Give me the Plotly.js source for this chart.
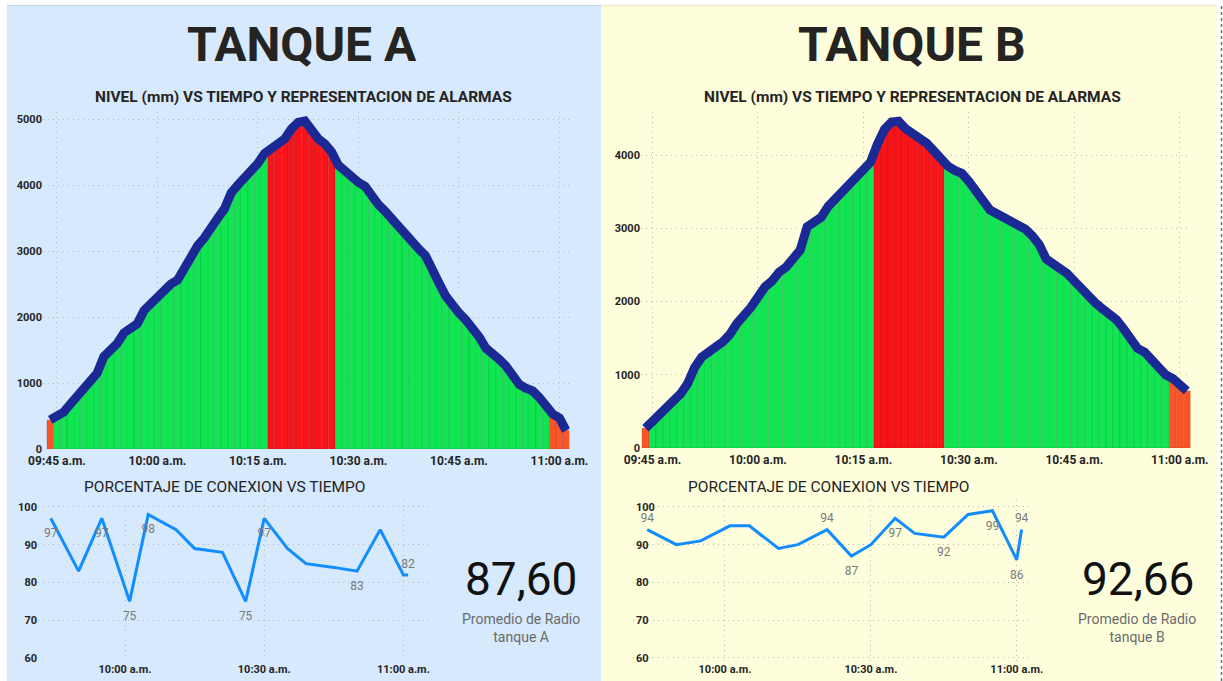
<!DOCTYPE html>
<html>
<head>
<meta charset="utf-8">
<script src="https://cdn.plot.ly/plotly-3.0.1.min.js"></script>
<style>
  html, body { margin: 0; padding: 0; background: #ffffff; overflow: hidden; }
  #chart { width: 1223px; height: 681px; }
</style>
</head>
<body>
<div id="chart"></div>
<script>
// ---------------- DATA ----------------
const day = "2024-01-01 ";

// Minute-by-minute sampling times of the tank level (both tanks)
const levelTimes = [
  "09:44","09:45","09:46","09:47","09:48","09:49","09:50","09:51","09:52","09:53","09:54","09:55","09:56","09:57","09:58","09:59",
  "10:00","10:01","10:02","10:03","10:04","10:05","10:06","10:07","10:08","10:09","10:10","10:11","10:12","10:13","10:14","10:15",
  "10:16","10:17","10:18","10:19","10:20","10:21","10:22","10:23","10:24","10:25","10:26","10:27","10:28","10:29","10:30","10:31",
  "10:32","10:33","10:34","10:35","10:36","10:37","10:38","10:39","10:40","10:41","10:42","10:43","10:44","10:45","10:46","10:47",
  "10:48","10:49","10:50","10:51","10:52","10:53","10:54","10:55","10:56","10:57","10:58","10:59","11:00","11:01"
];

// Tank A level (mm)
const levelA = [
  440, 510, 560, 680, 790, 900, 1000, 1150, 1400, 1500, 1600, 1760, 1830, 1900, 2100, 2200,
  2300, 2420, 2500, 2560, 2750, 2950, 3080, 3200, 3370, 3500, 3640, 3880, 4000, 4100, 4230, 4330,
  4480, 4560, 4650, 4700, 4850, 4950, 4970, 4820, 4700, 4620, 4500, 4300, 4200, 4120, 4040, 3980,
  3820, 3700, 3600, 3480, 3350, 3250, 3150, 3030, 2930, 2750, 2520, 2320, 2180, 2060, 1960, 1850,
  1700, 1530, 1420, 1360, 1260, 1110, 980, 920, 880, 780, 650, 530, 470, 280
];

// Tank B level (mm)
const levelB = [
  270, 360, 490, 580, 655, 740, 880, 1100, 1240, 1330, 1380, 1450, 1550, 1700, 1790, 1920,
  2060, 2200, 2280, 2400, 2470, 2600, 2700, 3020, 3080, 3150, 3300, 3400, 3460, 3560, 3680, 3800,
  3900, 4150, 4350, 4450, 4460, 4360, 4300, 4230, 4160, 4060, 3950, 3850, 3790, 3750, 3640, 3530,
  3380, 3250, 3200, 3160, 3110, 3050, 2990, 2900, 2780, 2580, 2520, 2470, 2380, 2280, 2180, 2050,
  1980, 1900, 1830, 1750, 1630, 1480, 1360, 1310, 1200, 1090, 1000, 950, 880, 780
];

// Alarm windows
const highAlarmA = ["10:17", "10:26"];
const lowAlarmTimesA = ["09:44", "10:59", "11:00", "11:01"];
const highAlarmB = ["10:17", "10:26"];
const lowAlarmTimesB = ["09:44", "10:59", "11:00", "11:01"];

// Level chart ticks
const levelTickTimes = ["09:45", "10:00", "10:15", "10:30", "10:45", "11:00"];
const levelTickLabels = ["09:45 a.m.", "10:00 a.m.", "10:15 a.m.", "10:30 a.m.", "10:45 a.m.", "11:00 a.m."];

// Connection percentage
const connTimes = ["09:44","09:50","09:55","10:01","10:05","10:11","10:15","10:21","10:26","10:30","10:35","10:39","10:45","10:50","10:55","11:00","11:01"];
const connA = [97, 83, 97, 75, 98, 94, 89, 88, 75, 97, 89, 85, 84, 83, 94, 82, 82];
const connB = [94, 90, 91, 95, 95, 89, 90, 94, 87, 90, 97, 93, 92, 98, 99, 86, 94];
const labelIdxA = [0, 2, 3, 4, 8, 9, 13, 16];
const labelTopA = [16];
const labelIdxB = [0, 7, 8, 10, 12, 14, 15, 16];
const labelTopB = [0, 7, 16];

const connTickTimes = ["10:00", "10:30", "11:00"];
const connTickLabels = ["10:00 a.m.", "10:30 a.m.", "11:00 a.m."];

// Cards
const avgA = "87,60";
const avgB = "92,66";
const cardLabelA = "Promedio de Radio<br>tanque A";
const cardLabelB = "Promedio de Radio<br>tanque B";

// ---------------- STYLE / LAYOUT ----------------
const W = 1223, H = 681;
const px = v => v / W;
const py = v => 1 - v / H;
const toDate = t => day + t;

const GREEN = "#12e552", RED = "#f81419", ORANGE = "#fb5427", NAVY = "#1b2994", BLUE = "#118dff";
const TXT = "#252423";
const FONT = "Roboto, 'Open Sans', sans-serif";

function barColors(high, lows) {
  return levelTimes.map(t => {
    if (lows.includes(t)) return ORANGE;
    if (t >= high[0] && t <= high[1]) return RED;
    return GREEN;
  });
}

function levelTraces(values, high, lows, xa, ya) {
  const xs = levelTimes.map(toDate);
  return [
    { type: "bar", x: xs, y: values, xaxis: xa, yaxis: ya, width: 60000,
      marker: { color: barColors(high, lows), line: { color: "rgba(0,0,0,0.13)", width: 0.8 } },
      hoverinfo: "skip" },
    { type: "scatter", mode: "lines", x: xs, y: values, xaxis: xa, yaxis: ya,
      line: { color: NAVY, width: 9 }, hoverinfo: "skip" }
  ];
}

function connTrace(values, idx, tops, xa, ya) {
  return { type: "scatter", mode: "lines+markers+text", x: connTimes.map(toDate), y: values,
    xaxis: xa, yaxis: ya, line: { color: BLUE, width: 3 },
    marker: { size: values.map((v, i) => tops.includes(i) ? 5 : 14), opacity: 0, color: BLUE },
    text: values.map((v, i) => idx.includes(i) ? String(v) : ""),
    textposition: values.map((v, i) => tops.includes(i) ? "top center" : "bottom center"),
    textfont: { family: FONT, size: 12, color: "#7a7a7a" },
    cliponaxis: false, hoverinfo: "skip" };
}

const data = [
  ...levelTraces(levelA, highAlarmA, lowAlarmTimesA, "x", "y"),
  ...levelTraces(levelB, highAlarmB, lowAlarmTimesB, "x2", "y2"),
  connTrace(connA, labelIdxA, labelTopA, "x3", "y3"),
  connTrace(connB, labelIdxB, labelTopB, "x4", "y4")
];

const gridCol = "#b9b9b9";
const gridDash = "1px,4px";
const tickFontX = { family: FONT, size: 12, weight: 700, color: TXT };
const tickFontY = { family: FONT, size: 11, weight: 700, color: TXT };
const tickFontSmall = { family: FONT, size: 11, weight: 700, color: TXT };

function xAxis(range, d0, d1, ticks, labels, anchorY, font, extra) {
  return Object.assign({ type: "date", range: range.map(toDate), domain: [px(d0), px(d1)], anchor: anchorY,
    tickmode: "array", tickvals: ticks.map(toDate), ticktext: labels,
    showgrid: true, gridcolor: gridCol, griddash: gridDash, gridwidth: 1,
    zeroline: false, showline: false, ticks: "", tickfont: font, ticklabelstandoff: 3,
    fixedrange: true }, extra || {});
}
function yAxis(range, top, bottom, dtick, anchorX, font, extra) {
  return Object.assign({ range: range, domain: [py(bottom), py(top)], anchor: anchorX,
    tick0: 0, dtick: dtick, showgrid: true, gridcolor: gridCol, griddash: gridDash, gridwidth: 1,
    zeroline: false, showline: false, ticks: "", tickfont: font, fixedrange: true }, extra || {});
}

const layout = {
  width: W, height: H, margin: { l: 0, r: 0, t: 0, b: 0 },
  paper_bgcolor: "#ffffff", plot_bgcolor: "rgba(0,0,0,0)",
  showlegend: false, bargap: 0, barmode: "overlay",
  font: { family: FONT, color: TXT },
  xaxis: xAxis(["09:42:55", "11:01:30"], 43, 569.5, levelTickTimes, levelTickLabels, "y", tickFontX),
  yaxis: yAxis([0, 5106], 112, 449, 1000, "x", tickFontY),
  xaxis2: xAxis(["09:43:22", "11:01:36"], 641, 1191, levelTickTimes, levelTickLabels, "y2", tickFontX),
  yaxis2: yAxis([0, 4587], 112, 448, 1000, "x2", tickFontY),
  xaxis3: xAxis(["09:41:15", "11:05:44"], 38, 430, connTickTimes, connTickLabels, "y3", tickFontSmall),
  yaxis3: yAxis([60, 101.85], 500, 658, 10, "x3", tickFontY),
  xaxis4: xAxis(["09:41:05", "11:03:08"], 633, 1032, connTickTimes, connTickLabels, "free", tickFontSmall, { position: py(658) }),
  yaxis4: yAxis([58.1, 101.85], 500, 665, 10, "x4", tickFontY, { ticklabelposition: "inside", tick0: 60 }),
  shapes: [
    { type: "rect", xref: "paper", yref: "paper", x0: px(7), x1: px(601), y0: 0, y1: py(5), fillcolor: "#d6e9fd", line: { width: 0 }, layer: "below" },
    { type: "rect", xref: "paper", yref: "paper", x0: px(601), x1: px(1217), y0: 0, y1: py(5), fillcolor: "#fefedd", line: { width: 0 }, layer: "below" },
    { type: "line", xref: "paper", yref: "paper", x0: px(7), x1: px(1217), y0: py(5.5), y1: py(5.5), line: { color: "rgba(0,0,0,0.08)", width: 1.5 }, layer: "below" },
    { type: "line", xref: "paper", yref: "paper", x0: px(1221.5), x1: px(1221.5), y0: 0, y1: py(5), line: { color: "#707070", width: 1.5, dash: "dot" }, layer: "below" }
  ],
  annotations: [
    { text: "TANQUE A", x: px(302), y: py(44), font: { family: FONT, size: 48, weight: 700, color: TXT } },
    { text: "TANQUE B", x: px(912), y: py(44), font: { family: FONT, size: 48, weight: 700, color: TXT } },
    { text: "NIVEL (mm) VS TIEMPO Y REPRESENTACION DE ALARMAS", x: px(303), y: py(97), font: { family: FONT, size: 15.5, weight: 700, color: TXT } },
    { text: "NIVEL (mm) VS TIEMPO Y REPRESENTACION DE ALARMAS", x: px(912), y: py(97), font: { family: FONT, size: 15.5, weight: 700, color: TXT } },
    { text: "PORCENTAJE DE CONEXION VS TIEMPO", x: px(225), y: py(487), font: { family: FONT, size: 15.5, color: TXT } },
    { text: "PORCENTAJE DE CONEXION VS TIEMPO", x: px(829), y: py(487), font: { family: FONT, size: 15.5, color: TXT } },
    { text: avgA, x: px(521), y: py(579), font: { family: FONT, size: 46, color: "#111111" } },
    { text: avgB, x: px(1138), y: py(579), font: { family: FONT, size: 46, color: "#111111" } },
    { text: cardLabelA, x: px(521), y: py(628), font: { family: FONT, size: 14, color: "#6b6b6b" } },
    { text: cardLabelB, x: px(1137), y: py(628), font: { family: FONT, size: 14, color: "#6b6b6b" } }
  ].map(a => Object.assign({ xref: "paper", yref: "paper", xanchor: "center", yanchor: "middle", showarrow: false }, a))
};

Plotly.newPlot("chart", data, layout, { displayModeBar: false, staticPlot: true });
</script>
</body>
</html>
